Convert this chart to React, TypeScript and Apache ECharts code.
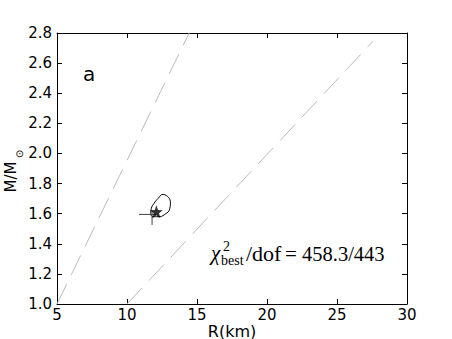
import React, { useEffect, useRef } from "react";
import * as echarts from "echarts";

const xTicks = { min: 5, max: 30, interval: 5 };
const yTicks = { min: 1.0, max: 2.8, interval: 0.2 };

const boundLeft: number[][] = [[5, 1.0], [14.44, 2.8]];
const boundRight: number[][] = [[10, 1.0], [27.57, 2.745]];

const contour: number[][] = [
  [12.93, 1.712],
  [12.58, 1.728],
  [12.22, 1.701],
  [11.93, 1.668],
  [11.74, 1.635],
  [11.70, 1.602],
  [11.86, 1.580],
  [12.22, 1.580],
  [12.70, 1.595],
  [13.06, 1.635],
  [13.10, 1.679],
  [12.93, 1.712],
];

const bestFit: number[][] = [[12.1, 1.613]];
const crossH: number[][] = [[10.86, 1.595], [12.1, 1.595]];
const crossV: number[][] = [[11.79, 1.525], [11.79, 1.62]];

const STAR =
  "path://M0,-10 L2.35,-3.24 L9.51,-3.09 L3.8,1.24 L5.88,8.09 L0,4 L-5.88,8.09 L-3.8,1.24 L-9.51,-3.09 L-2.35,-3.24 Z";

const sans = "DejaVu Sans";
const serif = "Liberation Serif";

export default function App() {
  const ref = useRef<HTMLDivElement>(null);
  useEffect(() => {
    if (!ref.current) return;
    const chart = echarts.init(ref.current, null, { renderer: "svg" });
    const axisCommon = {
      type: "value" as const,
      axisLine: { show: true, onZero: false, lineStyle: { color: "#000", width: 1 } },
      axisTick: { show: true, inside: true, length: 5, lineStyle: { color: "#000", width: 1 } },
      splitLine: { show: false },
    };
    chart.setOption({
      animation: false,
      backgroundColor: "#fff",
      grid: { left: 57, right: 45, top: 33, bottom: 35, outerBoundsMode: "none", containLabel: false },
      xAxis: [
        {
          ...axisCommon,
          ...xTicks,
          position: "bottom",
          axisLabel: { fontSize: 15, color: "#000", fontFamily: sans, margin: 3 },
          name: "R(km)",
          nameLocation: "middle",
          nameGap: 19,
          nameMoveOverlap: false,
          nameTextStyle: { fontSize: 16, color: "#000", fontFamily: sans, lineHeight: 16 },
        },
        {
          ...axisCommon,
          ...xTicks,
          position: "top",
          axisLabel: { show: false },
        },
      ],
      yAxis: [
        {
          ...axisCommon,
          ...yTicks,
          position: "left",
          axisLabel: {
            fontSize: 15,
            color: "#000",
            fontFamily: sans,
            margin: 5,
            formatter: (v: number) => v.toFixed(1),
          },
        },
        {
          ...axisCommon,
          ...yTicks,
          position: "right",
          axisLabel: { show: false },
        },
      ],
      graphic: [
        {
          type: "text",
          x: 11,
          y: 177,
          rotation: Math.PI / 2,
          style: { text: "M/M", fontSize: 15, fontFamily: sans, fill: "#000", align: "center", verticalAlign: "middle" },
        },
        {
          type: "text",
          x: 19,
          y: 154,
          rotation: Math.PI / 2,
          style: { text: "⊙", fontSize: 10, fontFamily: sans, fill: "#000", align: "center", verticalAlign: "middle" },
        },
        {
          type: "text",
          x: 89,
          y: 74,
          style: { text: "a", fontSize: 20, fontFamily: sans, fill: "#000", align: "center", verticalAlign: "middle" },
        },
        {
          type: "text",
          x: 211,
          y: 253,
          style: { text: "χ", fontSize: 21, fontFamily: serif, fontStyle: "italic", fill: "#000", align: "left", verticalAlign: "middle" },
        },
        {
          type: "text",
          x: 223,
          y: 246,
          style: { text: "2", fontSize: 14, fontFamily: serif, fill: "#000", align: "left", verticalAlign: "middle" },
        },
        {
          type: "text",
          x: 221,
          y: 260,
          style: { text: "best", fontSize: 14, fontFamily: serif, fill: "#000", align: "left", verticalAlign: "middle" },
        },
        {
          type: "text",
          x: 246,
          y: 253.5,
          style: { text: "/dof", fontSize: 22, fontFamily: serif, fill: "#000", align: "left", verticalAlign: "middle" },
        },
        {
          type: "text",
          x: 285,
          y: 253.5,
          style: { text: "=", fontSize: 21, fontFamily: serif, fill: "#000", align: "left", verticalAlign: "middle" },
        },
        {
          type: "text",
          x: 302,
          y: 253.5,
          style: { text: "458.3/443", fontSize: 20.5, fontFamily: serif, fill: "#000", align: "left", verticalAlign: "middle" },
        },
      ],
      series: [
        {
          type: "line",
          data: boundLeft,
          symbol: "none",
          silent: true,
          lineStyle: { color: "#bbbbbb", width: 1, type: [22, 10] },
        },
        {
          type: "line",
          data: boundRight,
          symbol: "none",
          silent: true,
          lineStyle: { color: "#bbbbbb", width: 1, type: [22, 10] },
        },
        {
          type: "line",
          data: contour,
          symbol: "none",
          smooth: 0.5,
          silent: true,
          lineStyle: { color: "#000", width: 1 },
        },
        {
          type: "line",
          data: crossH,
          symbol: "none",
          silent: true,
          lineStyle: { color: "#444", width: 1 },
        },
        {
          type: "line",
          data: crossV,
          symbol: "none",
          silent: true,
          lineStyle: { color: "#444", width: 1 },
        },
        {
          type: "scatter",
          data: bestFit,
          symbol: STAR,
          symbolSize: 13,
          silent: true,
          itemStyle: { color: "#000" },
          z: 5,
        },
      ],
    });
    return () => chart.dispose();
  }, []);
  return (
    <div
      ref={ref}
      style={{ position: "absolute", left: 0, top: 0, width: 452, height: 339 }}
    />
  );
}
